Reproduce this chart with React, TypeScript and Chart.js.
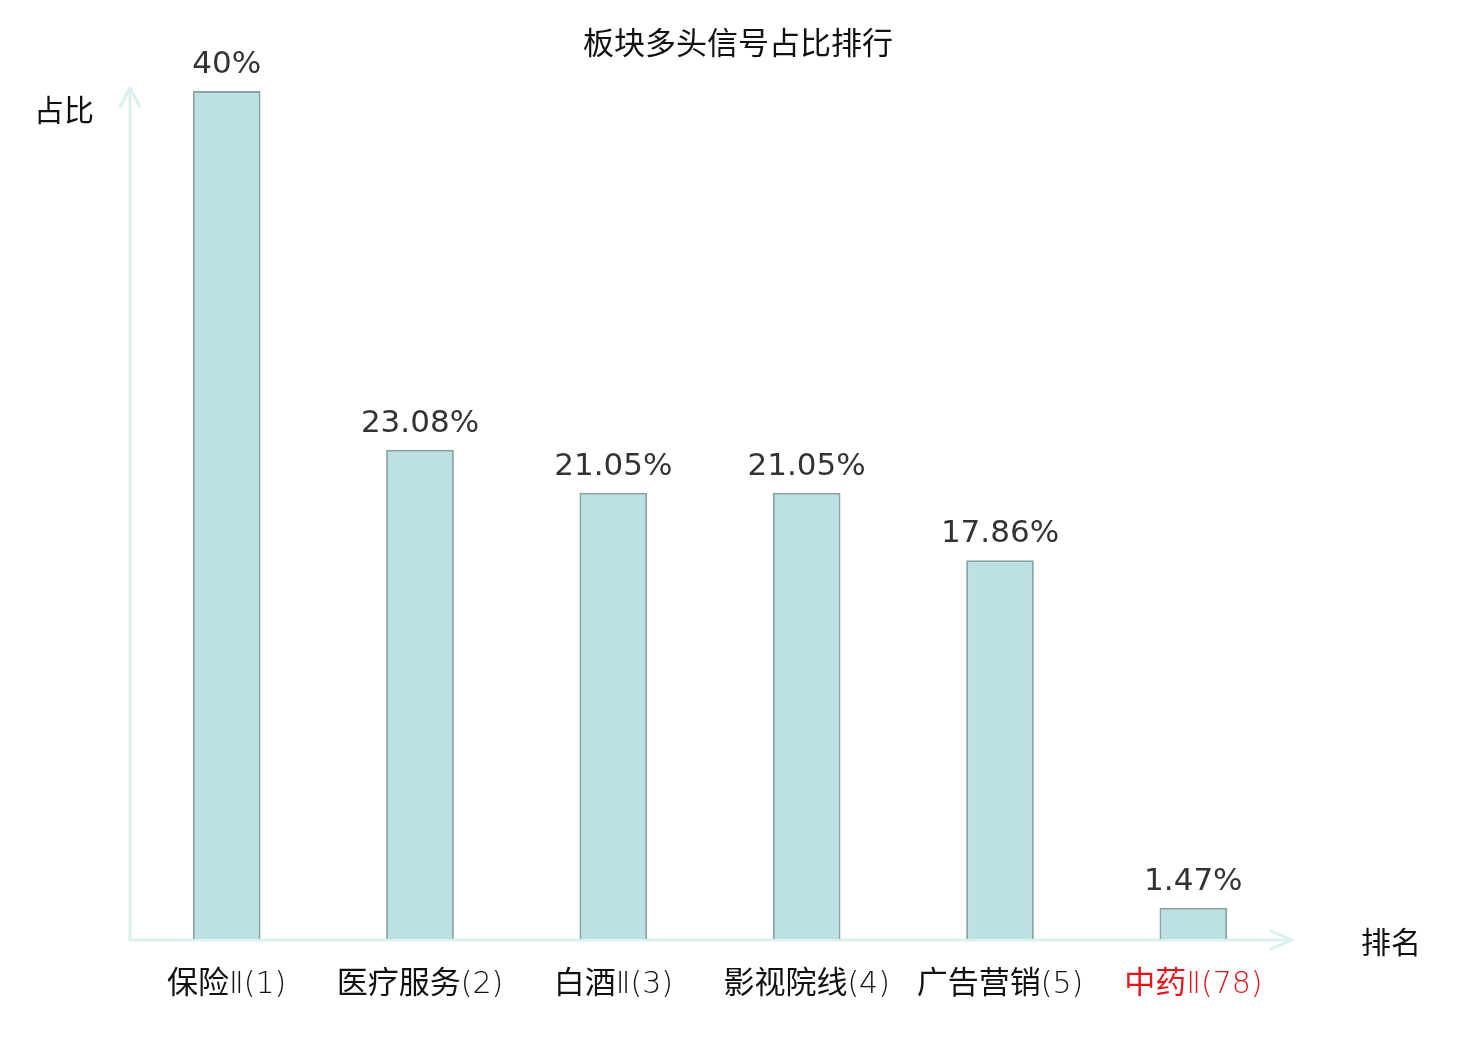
import React, { useEffect, useRef } from "react";
import { Chart, registerables } from "chart.js";

Chart.register(...registerables);

const TITLE = "板块多头信号占比排行";
const Y_AXIS_NAME = "占比";
const X_AXIS_NAME = "排名";
const categories = ["保险Ⅱ(1)", "医疗服务(2)", "白酒Ⅱ(3)", "影视院线(4)", "广告营销(5)", "中药Ⅱ(78)"];
const values = [40, 23.08, 21.05, 21.05, 17.86, 1.47];
const labelColors = ["#111111", "#111111", "#111111", "#111111", "#111111", "#e8141b"];

const AXIS_COLOR = "#dcf1ee";
const CJK = '"Noto Sans CJK SC", "Noto Sans", sans-serif';
const LIGHT_FONT = '200 30px "DejaVu Sans", "Noto Sans CJK SC", sans-serif';
const CJK_LABEL_FONT = '400 31px "Noto Sans CJK SC", sans-serif';
const NUM = '"DejaVu Sans", "Noto Sans CJK SC", sans-serif';

function splitRuns(text: string) {
  const runs: { t: string; light: boolean }[] = [];
  for (const ch of text) {
    const light = /[\x00-\x7F\u2160-\u217F]/.test(ch);
    const last = runs[runs.length - 1];
    if (last && last.light === light) last.t += ch;
    else runs.push({ t: ch, light });
  }
  return runs;
}

const decorPlugin = {
  id: "decor",
  beforeDatasetsDraw(chart: any) {
    const { ctx, chartArea } = chart;
    const { left, right, top, bottom } = chartArea;
    ctx.save();
    ctx.strokeStyle = AXIS_COLOR;
    ctx.lineWidth = 3;
    ctx.lineCap = "round";
    ctx.lineJoin = "round";
    ctx.beginPath();
    ctx.moveTo(left, bottom + 1);
    ctx.lineTo(left, top - 3);
    ctx.stroke();
    ctx.beginPath();
    ctx.moveTo(left - 10, top + 16);
    ctx.lineTo(left, top - 3);
    ctx.lineTo(left + 10, top + 16);
    ctx.stroke();
    ctx.beginPath();
    ctx.moveTo(left, bottom + 1);
    ctx.lineTo(right + 2, bottom + 1);
    ctx.stroke();
    ctx.beginPath();
    ctx.moveTo(right - 19, bottom - 8);
    ctx.lineTo(right + 2, bottom + 1);
    ctx.lineTo(right - 19, bottom + 10);
    ctx.stroke();
    ctx.restore();
  },
  afterDatasetsDraw(chart: any) {
    const { ctx, chartArea, scales } = chart;
    const { bottom } = chartArea;
    const xs = scales.x;
    const ys = scales.y;
    ctx.save();
    ctx.fillStyle = "#111111";
    ctx.font = `31px ${CJK}`;
    ctx.textAlign = "center";
    ctx.textBaseline = "middle";
    ctx.fillText(TITLE, 738, 42);
    ctx.font = `30px ${CJK}`;
    ctx.textAlign = "left";
    ctx.fillText(Y_AXIS_NAME, 34, 110);
    ctx.fillText(X_AXIS_NAME, 1361, 942);
    // category labels, drawn in runs (CJK + light latin)
    categories.forEach((c, i) => {
      const runs = splitRuns(c);
      let total = 0;
      const widths = runs.map((r) => {
        ctx.font = r.light ? LIGHT_FONT : CJK_LABEL_FONT;
        const w = ctx.measureText(r.t).width;
        total += w;
        return w;
      });
      let x = xs.getPixelForValue(i) - total / 2;
      ctx.fillStyle = labelColors[i];
      ctx.textAlign = "left";
      ctx.textBaseline = "alphabetic";
      runs.forEach((r, k) => {
        ctx.font = r.light ? LIGHT_FONT : CJK_LABEL_FONT;
        ctx.fillText(r.t, x, bottom + 54);
        x += widths[k];
      });
    });
    values.forEach((v, i) => {
      ctx.fillStyle = "#333333";
      ctx.font = `31px ${NUM}`;
      ctx.textAlign = "center";
      ctx.textBaseline = "alphabetic";
      ctx.fillText(`${v}%`, xs.getPixelForValue(i), ys.getPixelForValue(v) - 18);
    });
    ctx.restore();
  },
};

export default function App() {
  const ref = useRef<HTMLCanvasElement | null>(null);
  useEffect(() => {
    document.body.style.margin = "0";
    const canvas = ref.current;
    if (!canvas) return;
    const chart = new Chart(canvas, {
      type: "bar",
      data: {
        labels: categories,
        datasets: [
          {
            data: values,
            backgroundColor: "#bce0e3",
            borderColor: "#87a4a5",
            borderWidth: 2,
            barPercentage: 0.35,
            categoryPercentage: 1,
          },
        ],
      },
      options: {
        responsive: false,
        animation: false,
        devicePixelRatio: 1,
        layout: { padding: { left: 130, right: 190, top: 91, bottom: 101 } },
        plugins: { legend: { display: false }, tooltip: { enabled: false }, title: { display: false } },
        scales: {
          x: { display: false, offset: true },
          y: { display: false, min: 0, max: 40 },
        },
      },
      plugins: [decorPlugin],
    });
    return () => chart.destroy();
  }, []);
  return (
    <div style={{ position: "absolute", left: 0, top: 0, width: 1480, height: 1040, background: "#fff" }}>
      <canvas ref={ref} width={1480} height={1040} />
    </div>
  );
}
